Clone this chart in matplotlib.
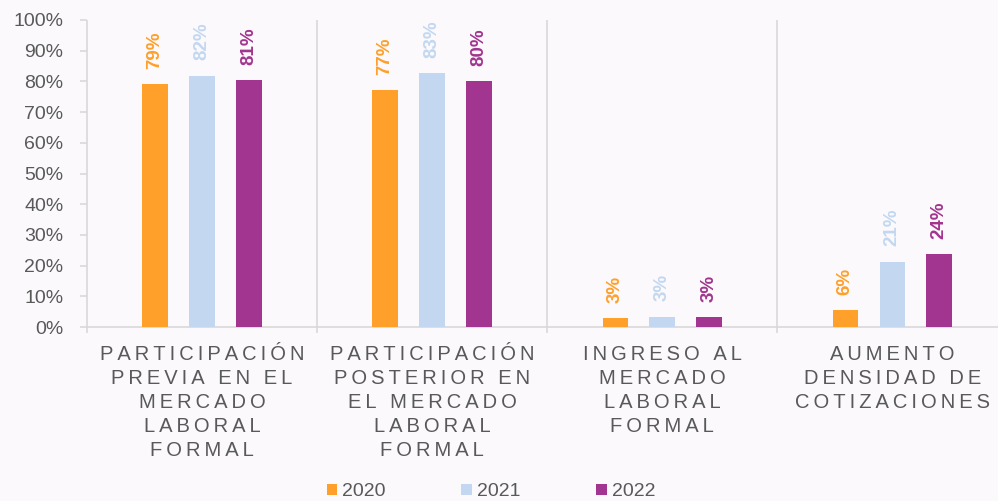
import matplotlib.pyplot as plt
import numpy as np

plt.rcParams["font.family"] = ["Liberation Sans", "DejaVu Sans"]

categories = [
    "PARTICIPACIÓN\nPREVIA EN EL\nMERCADO\nLABORAL\nFORMAL",
    "PARTICIPACIÓN\nPOSTERIOR EN\nEL MERCADO\nLABORAL\nFORMAL",
    "INGRESO AL\nMERCADO\nLABORAL\nFORMAL",
    "AUMENTO\nDENSIDAD DE\nCOTIZACIONES",
]
years = ["2020", "2021", "2022"]
v2020 = [79.1, 77.2, 2.8, 5.5]
v2021 = [81.9, 82.7, 3.4, 21.3]
v2022 = [80.5, 80.1, 3.3, 23.7]
labels2020 = ["79%", "77%", "3%", "6%"]
labels2021 = ["82%", "83%", "3%", "21%"]
labels2022 = ["81%", "80%", "3%", "24%"]
yticks = [0, 10, 20, 30, 40, 50, 60, 70, 80, 90, 100]

colors = ["#FFA02A", "#C3D8F0", "#A2358F"]
grey = "#595959"
line = "#D9D9D9"
bg = "#FBF9FC"


def spaced(s, sp="\u2009"):
    # fake letter spacing
    return "\n".join(sp.join(list(ln)) for ln in s.split("\n"))


fig = plt.figure(figsize=(9.98, 5.01), dpi=100, facecolor=bg)
ax = fig.add_axes([87 / 998, (501 - 327) / 501, 1 - 87 / 998, (327 - 20) / 501])
ax.set_facecolor(bg)

x = np.arange(len(categories))
off = 0.204
w = 0.11
series = [(v2020, labels2020), (v2021, labels2021), (v2022, labels2022)]
for i, (vals, labs) in enumerate(series):
    pos = x + (i - 1) * off
    ax.bar(pos, vals, w, color=colors[i], label=years[i], zorder=3)
    for p, v, t in zip(pos, vals, labs):
        ax.annotate(t, (p, v), xytext=(0, 11), textcoords="offset points",
                    rotation=90, ha="center", va="bottom", fontsize=13.5,
                    fontweight="bold", color=colors[i])

ax.set_ylim(0, 100)
ax.set_xlim(-0.5, 3.46)
ax.set_yticks(yticks)
ax.set_yticklabels([f"{t}%" for t in yticks], fontsize=14, color=grey)
ax.tick_params(axis="y", length=5, width=1.2, color=line, pad=12)

ax.set_xticks(x)
ax.set_xticklabels([spaced(c) for c in categories], fontsize=14.5, color=grey,
                   linespacing=1.33)
ax.tick_params(axis="x", length=0, pad=13)

for s in ["top", "right", "left"]:
    ax.spines[s].set_visible(False)
ax.spines["bottom"].set_color(line)
ax.spines["bottom"].set_linewidth(1.2)

ax.vlines([-0.5, 0.5, 1.5, 2.5], -2, 100, colors=line, linewidth=1.2,
          clip_on=False, zorder=2)

fig.legend(loc="center", bbox_to_anchor=(491 / 998, 1 - 492 / 501), ncol=3,
           frameon=False, fontsize=14, labelcolor=grey, handlelength=0.55,
           handleheight=0.55, handletextpad=0.25, columnspacing=3.9)

fig.savefig("out.png", dpi=100, facecolor=bg)
